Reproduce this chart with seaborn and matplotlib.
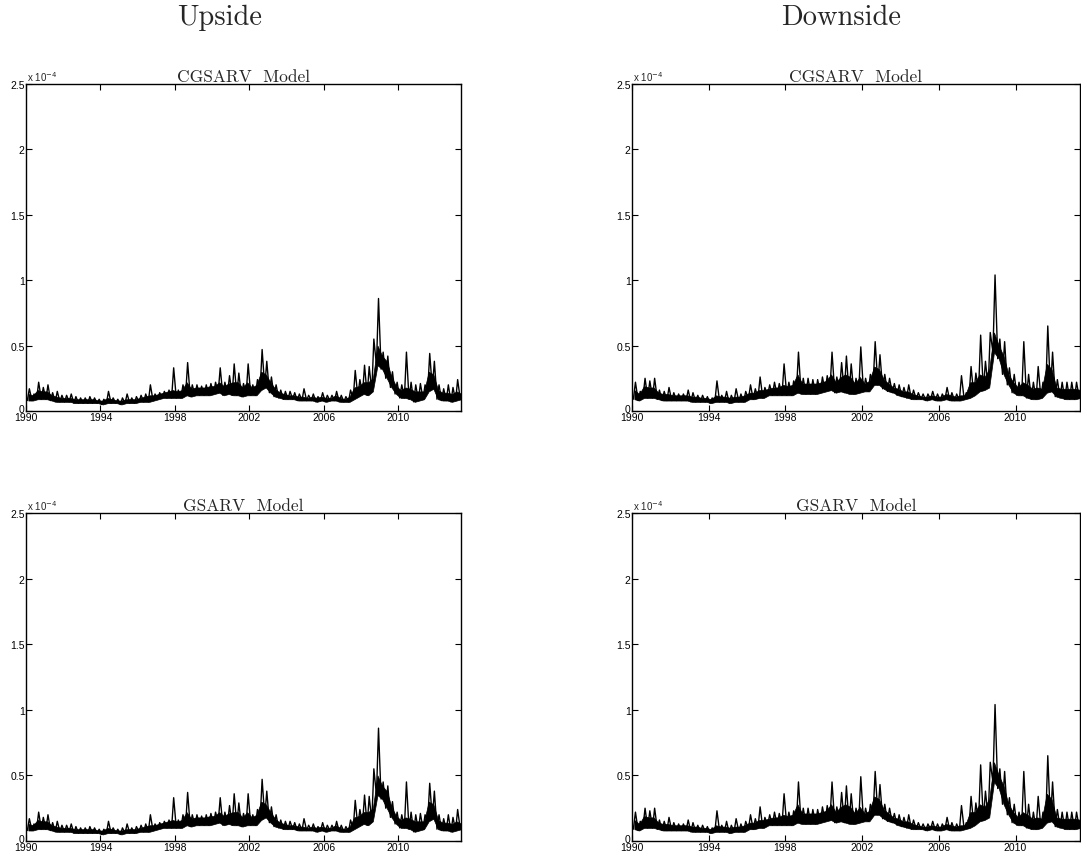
"""Upside / downside realized variance fits, CGSARV vs GSARV (MATLAB-style 2x2 panel)."""
import numpy as np
import matplotlib
matplotlib.use("Agg")
import matplotlib.pyplot as plt
import matplotlib.transforms as mtransforms
import seaborn as sns

# values in units of 1e-4, read per quarter from 1990Q1 to 2013Q2:
# lo = bottom of the daily band, top = usual top of the band, hi = highest spike
upside_lo = [0.08, 0.08, 0.09, 0.09,  0.09, 0.08, 0.07, 0.07,  0.07, 0.07, 0.06, 0.06,
             0.06, 0.06, 0.06, 0.06,  0.05, 0.06, 0.06, 0.06,  0.05, 0.06, 0.06, 0.06,
             0.07, 0.07, 0.07, 0.08,  0.09, 0.10, 0.10, 0.10,  0.10, 0.10, 0.12, 0.11,
             0.12, 0.12, 0.12, 0.12,  0.13, 0.14, 0.12, 0.13,  0.12, 0.12, 0.11, 0.12,
             0.12, 0.12, 0.16, 0.18,  0.14, 0.11, 0.10, 0.09,  0.09, 0.09, 0.08, 0.08,
             0.08, 0.08, 0.07, 0.08,  0.07, 0.08, 0.08, 0.07,  0.07, 0.07, 0.09, 0.11,
             0.13, 0.12, 0.15, 0.35,  0.32, 0.25, 0.18, 0.13,  0.10, 0.10, 0.09, 0.07,
             0.08, 0.09, 0.15, 0.17,  0.09, 0.08, 0.08, 0.07,  0.08, 0.09]
upside_top = [0.13, 0.12, 0.16, 0.15,  0.15, 0.12, 0.11, 0.10,  0.10, 0.10, 0.09, 0.09,
              0.09, 0.09, 0.09, 0.08,  0.08, 0.10, 0.09, 0.08,  0.08, 0.09, 0.09, 0.09,
              0.10, 0.11, 0.12, 0.12,  0.13, 0.14, 0.15, 0.16,  0.15, 0.16, 0.22, 0.17,
              0.18, 0.18, 0.18, 0.19,  0.19, 0.22, 0.19, 0.21,  0.22, 0.22, 0.18, 0.22,
              0.18, 0.20, 0.30, 0.28,  0.22, 0.17, 0.14, 0.13,  0.12, 0.12, 0.11, 0.11,
              0.10, 0.11, 0.10, 0.11,  0.10, 0.10, 0.12, 0.10,  0.09, 0.11, 0.18, 0.19,
              0.22, 0.22, 0.25, 0.50,  0.42, 0.38, 0.26, 0.19,  0.16, 0.18, 0.17, 0.15,
              0.15, 0.15, 0.30, 0.28,  0.16, 0.14, 0.14, 0.13,  0.15, 0.13]
upside_hi = [0.17, 0.13, 0.22, 0.18,  0.20, 0.14, 0.15, 0.12,  0.12, 0.13, 0.11, 0.10,
             0.10, 0.11, 0.10, 0.09,  0.09, 0.15, 0.10, 0.09,  0.10, 0.13, 0.10, 0.11,
             0.12, 0.13, 0.20, 0.13,  0.14, 0.15, 0.16, 0.33,  0.16, 0.20, 0.37, 0.20,
             0.20, 0.19, 0.20, 0.21,  0.22, 0.33, 0.22, 0.27,  0.36, 0.29, 0.21, 0.36,
             0.20, 0.24, 0.47, 0.38,  0.26, 0.20, 0.16, 0.15,  0.15, 0.14, 0.13, 0.17,
             0.12, 0.13, 0.11, 0.14,  0.12, 0.12, 0.15, 0.12,  0.11, 0.16, 0.31, 0.24,
             0.35, 0.34, 0.55, 0.86,  0.45, 0.42, 0.30, 0.22,  0.20, 0.45, 0.22, 0.20,
             0.21, 0.20, 0.44, 0.38,  0.20, 0.17, 0.20, 0.18,  0.24, 0.16]
downside_lo = [0.09, 0.08, 0.10, 0.10,  0.10, 0.09, 0.08, 0.08,  0.08, 0.08, 0.08, 0.08,
               0.07, 0.07, 0.07, 0.07,  0.06, 0.07, 0.07, 0.07,  0.06, 0.07, 0.07, 0.07,
               0.09, 0.09, 0.10, 0.10,  0.12, 0.12, 0.12, 0.12,  0.12, 0.12, 0.14, 0.13,
               0.13, 0.13, 0.13, 0.14,  0.15, 0.16, 0.14, 0.15,  0.14, 0.13, 0.13, 0.14,
               0.15, 0.15, 0.20, 0.20,  0.17, 0.15, 0.14, 0.12,  0.11, 0.10, 0.09, 0.09,
               0.09, 0.08, 0.09, 0.08,  0.08, 0.09, 0.08, 0.08,  0.08, 0.09, 0.10, 0.12,
               0.15, 0.16, 0.18, 0.45,  0.40, 0.28, 0.20, 0.14,  0.12, 0.12, 0.10, 0.09,
               0.09, 0.10, 0.14, 0.15,  0.11, 0.10, 0.09, 0.09,  0.09, 0.10]
downside_top = [0.16, 0.13, 0.19, 0.18,  0.18, 0.14, 0.13, 0.13,  0.12, 0.12, 0.12, 0.12,
                0.11, 0.11, 0.10, 0.10,  0.09, 0.12, 0.11, 0.11,  0.10, 0.11, 0.11, 0.12,
                0.14, 0.14, 0.16, 0.16,  0.17, 0.18, 0.18, 0.20,  0.19, 0.20, 0.28, 0.21,
                0.21, 0.21, 0.21, 0.22,  0.23, 0.28, 0.22, 0.26,  0.28, 0.26, 0.21, 0.26,
                0.21, 0.23, 0.34, 0.32,  0.24, 0.21, 0.18, 0.17,  0.15, 0.15, 0.13, 0.12,
                0.11, 0.11, 0.12, 0.11,  0.11, 0.13, 0.12, 0.11,  0.12, 0.12, 0.22, 0.22,
                0.28, 0.26, 0.32, 0.60,  0.50, 0.42, 0.28, 0.22,  0.18, 0.22, 0.20, 0.17,
                0.18, 0.17, 0.36, 0.32,  0.18, 0.17, 0.17, 0.17,  0.17, 0.16]
downside_hi = [0.22, 0.15, 0.25, 0.23,  0.25, 0.16, 0.15, 0.18,  0.14, 0.13, 0.13, 0.16,
               0.14, 0.12, 0.12, 0.11,  0.10, 0.23, 0.12, 0.15,  0.12, 0.17, 0.13, 0.15,
               0.20, 0.17, 0.26, 0.18,  0.20, 0.22, 0.21, 0.36,  0.22, 0.23, 0.45, 0.25,
               0.25, 0.24, 0.24, 0.26,  0.27, 0.45, 0.26, 0.37,  0.42, 0.36, 0.25, 0.49,
               0.25, 0.28, 0.53, 0.43,  0.28, 0.25, 0.21, 0.20,  0.18, 0.20, 0.16, 0.14,
               0.13, 0.13, 0.15, 0.13,  0.13, 0.18, 0.14, 0.13,  0.27, 0.14, 0.34, 0.29,
               0.58, 0.38, 0.60, 1.04,  0.55, 0.53, 0.33, 0.28,  0.22, 0.53, 0.28, 0.22,
               0.34, 0.22, 0.65, 0.45,  0.24, 0.22, 0.22, 0.22,  0.22, 0.20]

# the two model fits are indistinguishable at this resolution
series = {("Upside", "CGSARV  Model"): (upside_lo, upside_top, upside_hi),
          ("Upside", "GSARV  Model"): (upside_lo, upside_top, upside_hi),
          ("Downside", "CGSARV  Model"): (downside_lo, downside_top, downside_hi),
          ("Downside", "GSARV  Model"): (downside_lo, downside_top, downside_hi)}

YEAR_TICKS = [1990, 1994, 1998, 2002, 2006, 2010]
Y_TICKS = [0, 0.5, 1, 1.5, 2, 2.5]
Y_LABELS = ["0", "0.5", "1", "1.5", "2", "2.5"]
X_END = 2013.36


def quarters(n):
    return 1990 + 0.25 * np.arange(n)


def zigzag(lo, hi):
    q0 = quarters(len(lo))
    t = np.column_stack([q0 + 0.07, q0 + 0.18]).ravel()
    v = np.column_stack([lo, hi]).ravel()
    return t, v


sns.set_theme(style="ticks")
plt.rcParams["font.family"] = ["Liberation Sans", "DejaVu Sans"]
serif = "cmr10"

W, H = 1081, 862
fig = plt.figure(figsize=(W / 100, H / 100), dpi=100)
boxes = {("Upside", 0): (26, 85, 435, 327), ("Upside", 1): (26, 514, 435, 328),
         ("Downside", 0): (632, 85, 448, 327), ("Downside", 1): (632, 514, 448, 328)}

for (side, model), (lo, top, hi) in series.items():
    row = 0 if model.startswith("CG") else 1
    x0, y0, w, h = boxes[(side, row)]
    ax = fig.add_axes([x0 / W, 1 - (y0 + h) / H, w / W, h / H])
    # dense part of the daily band
    qm = quarters(len(lo)) + 0.125
    ax.fill_between(qm, lo, top, color="black", lw=0.5, edgecolor="black")
    # spikes
    t, v = zigzag(lo, hi)
    sns.lineplot(x=t, y=v, ax=ax, color="black", lw=1.0, sort=False, estimator=None)
    ax.set_xlim(1990, X_END); ax.set_ylim(0, 2.5)
    ax.set_xticks(YEAR_TICKS); ax.set_xticklabels([str(y) for y in YEAR_TICKS])
    ax.set_yticks(Y_TICKS); ax.set_yticklabels(Y_LABELS)
    ax.tick_params(direction="in", length=4, width=0.8, top=True, right=True,
                   labelsize=7.5, pad=1, colors="black")
    # MATLAB puts the "0" just above the 1990 label
    zero = ax.get_yticklabels()[0]
    zero.set_transform(zero.get_transform() +
                       mtransforms.ScaledTranslation(0, 2.5 / 72, fig.dpi_scale_trans))
    for s in ax.spines.values():
        s.set_visible(True); s.set_color("black"); s.set_linewidth(1.0)
    ax.set_xlabel(""); ax.set_ylabel("")
    ax.set_title(model, fontname=serif, fontsize=12.5, pad=2)
    ax.text(0.003, 1.003, r"x 10$^{-4}$", transform=ax.transAxes, fontsize=7,
            va="bottom", ha="left")

fig.text(220 / W, 1 - 18 / H, "Upside", fontname=serif, fontsize=20.5, ha="center", va="center")
fig.text(841 / W, 1 - 18 / H, "Downside", fontname=serif, fontsize=20.5, ha="center", va="center")

fig.savefig("out.png", dpi=100)
